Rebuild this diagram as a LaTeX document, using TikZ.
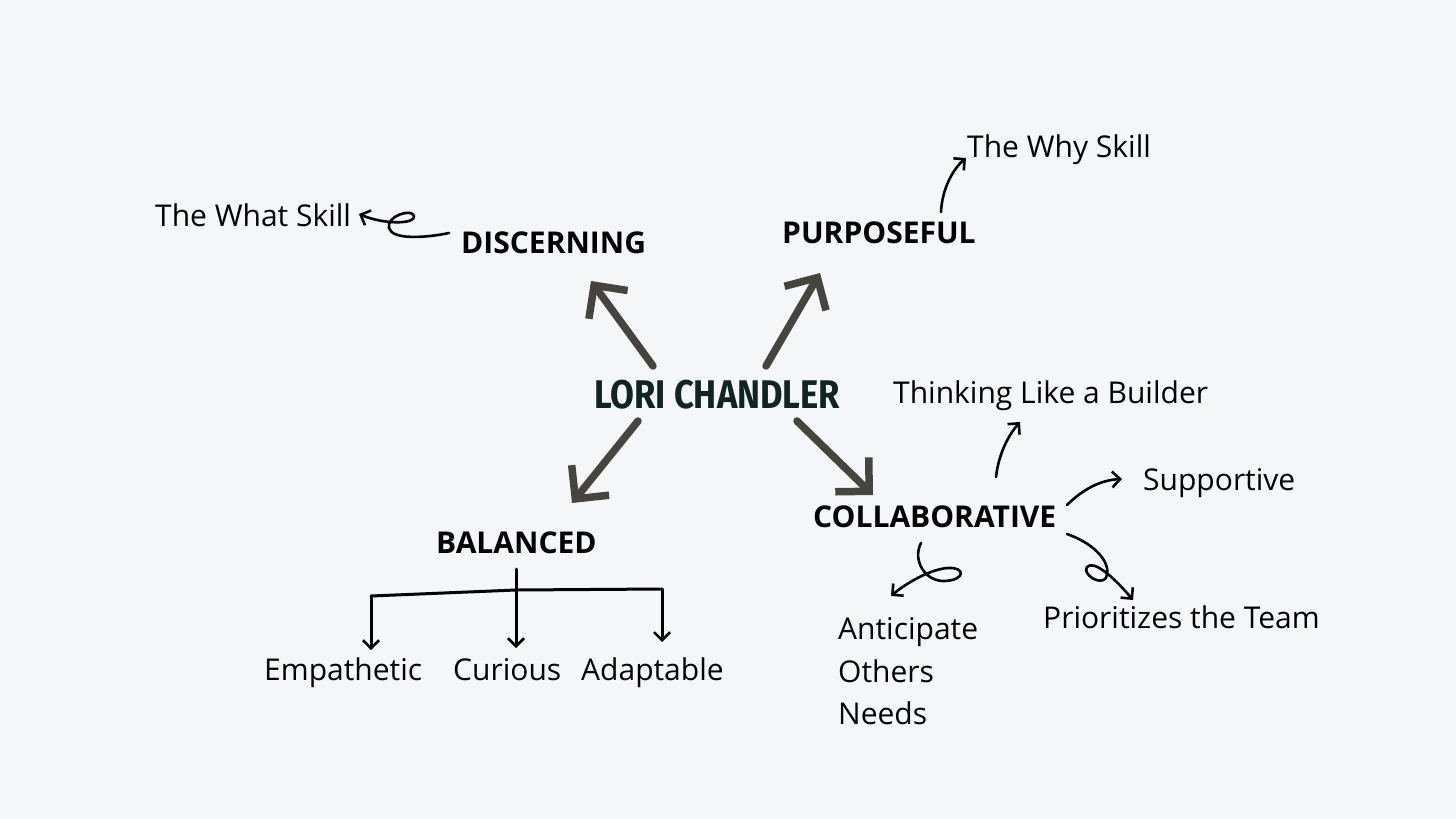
\documentclass[tikz,border=0pt]{standalone}
\usepackage{fontspec}
\setmainfont{Open Sans}
\newfontfamily\titlefont{Fira Sans}
\usetikzlibrary{arrows.meta}
\definecolor{bg}{HTML}{F4F6F8}
\definecolor{thick}{HTML}{46443E}
\definecolor{titlec}{HTML}{102420}
\tikzset{
  lbl/.style={font=\fontsize{30}{34}\selectfont, inner sep=0pt, text=black, anchor=base west},
  head/.style={font=\fontsize{30}{34}\selectfont\bfseries, inner sep=0pt, text=black, anchor=base west},
  bigarrow/.style={draw=thick, line width=7.5pt, line cap=round, line join=round,
     -{Straight Barb[length=24pt,width=48pt,line width=7.5pt]}},
  thinarrow/.style={draw=black, line width=2.6pt, line cap=round, line join=round,
     -{Straight Barb[length=8pt,width=16pt,line width=2.6pt]}},
  treeline/.style={draw=black, line width=3pt, line cap=round, line join=round}
}
\begin{document}
\begin{tikzpicture}[x=1pt,y=-1pt]
\fill[bg] (0,0) rectangle (1456,819);
\useasboundingbox (0,0) rectangle (1456,819);

% nodes
\node[inner sep=0pt, text=titlec, anchor=base west] (lori) at (594,408) {\titlefont\bfseries\fontsize{40}{44}\selectfont\scalebox{0.865}[1.0]{LORI CHANDLER}};
\node[head] (disc) at (461,253) {DISCERNING};
\node[head] (purp) at (782,243) {PURPOSEFUL};
\node[head] (bal) at (436,553) {BALANCED};
\node[head] (coll) at (813,527) {COLLABORATIVE};

\node[lbl] (what) at (155,226) {The What Skill};
\node[lbl] (why) at (967,157) {The Why Skill};
\node[lbl] (think) at (893,403) {Thinking Like a Builder};
\node[lbl] (supp) at (1143,490) {Supportive};
\node[lbl] (prio) at (1043,628) {Prioritizes the Team};
\node[lbl] (anti1) at (838,639) {Anticipate};
\node[lbl] (anti2) at (838,682) {Others};
\node[lbl] (anti3) at (838,724) {Needs};
\node[lbl] (emp) at (264,680) {Empathetic};
\node[lbl] (cur) at (453,680) {Curious};
\node[lbl] (ada) at (581,680) {Adaptable};

% coordinates for connector ends
\coordinate (l1) at (653,366);
\coordinate (l2) at (766,366);
\coordinate (l3) at (638,421);
\coordinate (l4) at (797,421);
\coordinate (d1) at (591,281);
\coordinate (p1) at (820,273);
\coordinate (b1) at (572,503);
\coordinate (c1) at (873,495);

% big arrows
\draw[bigarrow] (l1) -- (d1);
\draw[bigarrow] (l2) -- (p1);
\draw[bigarrow] (l3) -- (b1);
\draw[bigarrow] (l4) -- (c1);

% thin arrows
\coordinate (w0) at (449,233);
\coordinate (w1) at (359,214);
\draw[thinarrow] (w0) .. controls (425,238) and (392,240) .. (389,228)
  .. controls (386,216) and (412,208) .. (414,216)
  .. controls (416,224) and (385,225) .. (w1);

\coordinate (y0) at (941,212);
\coordinate (y1) at (966,158);
\draw[thinarrow] (y0) .. controls (942,190) and (952,170) .. (y1);

\coordinate (t0) at (996,477);
\coordinate (t1) at (1020,422);
\draw[thinarrow] (t0) .. controls (998,458) and (1006,438) .. (t1);

\coordinate (s0) at (1067,505);
\coordinate (s1) at (1122,479);
\draw[thinarrow] (s0) .. controls (1082,490) and (1100,480) .. (s1);

\coordinate (r0) at (1067,534);
\coordinate (r1) at (1133,600);
\draw[thinarrow] (r0) .. controls (1098,545) and (1112,565) .. (1106,578)
  .. controls (1100,586) and (1082,574) .. (1087,567)
  .. controls (1093,560) and (1112,575) .. (r1);

\coordinate (a0) at (921,543);
\coordinate (a1) at (891,596);
\draw[thinarrow] (a0) .. controls (912,560) and (925,582) .. (945,581)
  .. controls (965,580) and (966,567) .. (948,568)
  .. controls (930,569) and (905,584) .. (a1);

% balanced tree
\coordinate (bt) at (516,569);
\coordinate (tl) at (371,596);
\coordinate (tr) at (662,589);
\draw[treeline] (tl) -- (516,590) -- (tr);
\draw[thinarrow, line width=3pt] (bt) -- (516,648);
\draw[thinarrow, line width=3pt] (tl) -- (371,650);
\draw[thinarrow, line width=3pt] (tr) -- (662,642);
\end{tikzpicture}
\end{document}
